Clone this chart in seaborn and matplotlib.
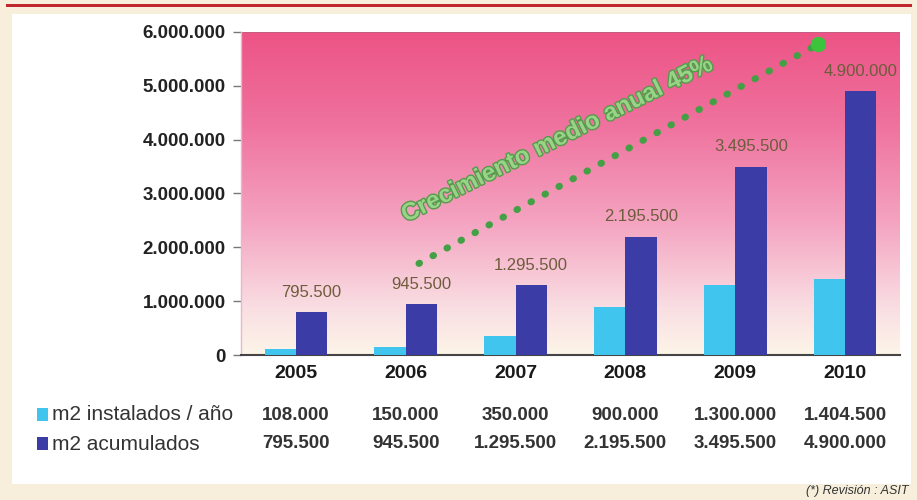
import numpy as np
import pandas as pd
import matplotlib
matplotlib.use("Agg")
import matplotlib.pyplot as plt
import matplotlib.patheffects as pe
from matplotlib.colors import LinearSegmentedColormap
from matplotlib.patches import Rectangle
import matplotlib.transforms as mtransforms
import seaborn as sns

# ---- data ----
years = ["2005", "2006", "2007", "2008", "2009", "2010"]
installed = [108000, 150000, 350000, 900000, 1300000, 1404500]
accumulated = [795500, 945500, 1295500, 2195500, 3495500, 4900000]
installed_labels = ["108.000", "150.000", "350.000", "900.000", "1.300.000", "1.404.500"]
accumulated_labels = ["795.500", "945.500", "1.295.500", "2.195.500", "3.495.500", "4.900.000"]
series_names = ["m2 instalados / año", "m2 acumulados"]
y_ticks = [0, 1000000, 2000000, 3000000, 4000000, 5000000, 6000000]
y_tick_labels = ["0", "1.000.000", "2.000.000", "3.000.000", "4.000.000", "5.000.000", "6.000.000"]
trend_text = "Crecimiento medio anual 45%"
footnote = "(*) Revisión : ASIT"

df = pd.DataFrame({
    "year": years * 2,
    "value": installed + accumulated,
    "serie": [series_names[0]] * 6 + [series_names[1]] * 6,
})

sns.set_theme(style="white")
plt.rcParams["font.family"] = ["Liberation Sans", "DejaVu Sans"]

W, H = 917, 500
fig = plt.figure(figsize=(W / 100, H / 100), dpi=100)
fig.patch.set_facecolor("#f7efdc")

# white panel and red rule
fig.add_artist(Rectangle((12 / W, 1 - 484 / H), (911 - 12) / W, (484 - 14) / H,
                         transform=fig.transFigure, facecolor="white", edgecolor="none", zorder=0))
fig.add_artist(Rectangle((6 / W, 1 - 7 / H), (912 - 6) / W, 3 / H,
                         transform=fig.transFigure, facecolor="#c0282f", edgecolor="none", zorder=1))

ax_left, ax_right, ax_top, ax_bottom = 241, 900, 32, 355
ax = fig.add_axes([ax_left / W, 1 - ax_bottom / H, (ax_right - ax_left) / W, (ax_bottom - ax_top) / H])

palette = {series_names[0]: "#40c6ee", series_names[1]: "#3c3ca6"}
sns.barplot(data=df, x="year", y="value", hue="serie", palette=palette,
            width=0.57, saturation=1, ax=ax, legend=False, zorder=3, linewidth=0)

ax.set_ylim(0, 6000000)
ax.set_xlim(-0.5, 5.5)

# pink gradient background of the plotting area
grad_cmap = LinearSegmentedColormap.from_list(
    "bg", [(0.0, "#fdf5e8"), (0.15, "#f9dde2"), (0.42, "#f4a2c0"), (0.72, "#ef719d"), (1.0, "#ec5486")])
grad = np.linspace(0, 1, 256).reshape(-1, 1)
ax.imshow(grad, aspect="auto", cmap=grad_cmap, origin="lower",
          extent=[-0.5, 5.5, 0, 6000000], zorder=0)

ax.set_yticks(y_ticks)
ax.set_yticklabels(y_tick_labels, fontsize=13.5, color="#222222", fontweight="bold")
ax.tick_params(axis="y", length=6, width=1, color="#777777", pad=5, left=True)
ax.set_xticks([])
ax.set_xlabel("")
ax.set_ylabel("")
for side in ["top", "right"]:
    ax.spines[side].set_visible(False)
ax.spines["left"].set_color("#e9b7c9")
ax.spines["left"].set_linewidth(1)
ax.spines["bottom"].set_color("#444444")
ax.spines["bottom"].set_linewidth(1.5)
ax.axhline(6000000, color="#c06080", lw=1.2, zorder=1)

# value labels above the accumulated bars
for i, (val, lab) in enumerate(zip(accumulated, accumulated_labels)):
    x = i + 0.57 / 4
    ax.annotate(lab, (x, val), xytext=(0, 9), textcoords="offset points",
                ha="center", va="bottom", fontsize=12, color="#6e5c3c", zorder=5)

# trend line
trend_x = [1.12, 4.75]
trend_y = [1700000, 5770000]
ax.plot(trend_x, trend_y, linestyle=(0, (0.1, 2.2)), dash_capstyle="round",
        color="#44a044", lw=5, zorder=4)
ax.plot([trend_x[1]], [trend_y[1]], "o", color="#3cc43c", ms=10, zorder=4)

ax.text(2.38, 4000000, trend_text, rotation=26.5, rotation_mode="anchor",
        ha="center", va="center",
        fontsize=17.5, fontweight="bold", color="#98d488", zorder=4,
        path_effects=[pe.withStroke(linewidth=2, foreground="#589a4c")])

# year row and data table below the axis
blend = mtransforms.blended_transform_factory(ax.transData, fig.transFigure)
for i, yr in enumerate(years):
    ax.text(i, 1 - 373 / H, yr, transform=blend, ha="center", va="center",
            fontsize=14, fontweight="bold", color="#1a1a1a")
    ax.text(i, 1 - 415 / H, installed_labels[i], transform=blend, ha="center", va="center",
            fontsize=13.5, fontweight="bold", color="#333333")
    ax.text(i, 1 - 444 / H, accumulated_labels[i], transform=blend, ha="center", va="center",
            fontsize=13.5, fontweight="bold", color="#333333")

for row_y, name in zip([415, 444], series_names):
    fig.add_artist(Rectangle((37 / W, 1 - (row_y + 6) / H), 11 / W, 13 / H,
                             transform=fig.transFigure, facecolor=palette[name], edgecolor="none"))
    fig.text(52 / W, 1 - row_y / H, name, ha="left", va="center",
             fontsize=15, color="#333333")

fig.text(909 / W, 1 - 491 / H, footnote, ha="right", va="center",
         fontsize=9, style="italic", color="#333333")

fig.savefig("out.png", dpi=100, facecolor=fig.get_facecolor())
